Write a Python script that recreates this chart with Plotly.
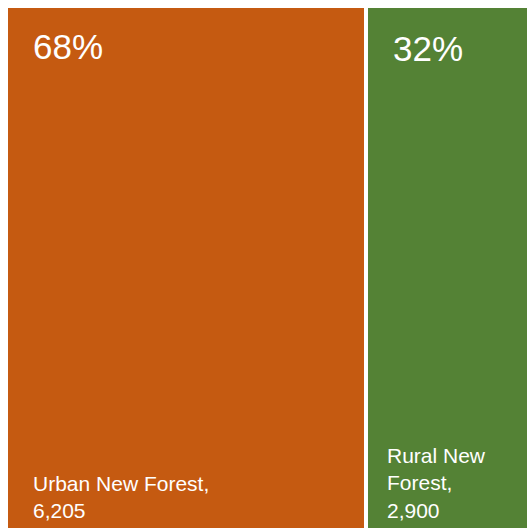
import plotly.graph_objects as go

# Tree segments: New Forest by area type
categories = ["Urban New Forest", "Rural New Forest"]
counts = [6205, 2900]
colors = ["#C55A11", "#548235"]
# Display labels (wrapped to fit each tile)
label_lines = [["Urban New Forest,", "6,205"], ["Rural New", "Forest,", "2,900"]]

total = sum(counts)
starts = [sum(counts[:i]) for i in range(len(counts))]
centers = [s + c / 2 for s, c in zip(starts, counts)]
shares = [f"{round(100 * c / total)}%" for c in counts]

fig = go.Figure()
fig.add_trace(go.Bar(
    x=centers,
    y=[1] * len(counts),
    width=counts,
    marker=dict(color=colors, line=dict(color="white", width=4)),
    hoverinfo="skip",
    showlegend=False,
))

font = "Liberation Sans, Arial, sans-serif"
label_shift = [25, 19]
pct_yshift = [-19, -21]
for s, pct, lines, dx, dy in zip(starts, shares, label_lines, label_shift, pct_yshift):
    fig.add_annotation(
        x=s, y=1, xref="x", yref="y", xanchor="left", yanchor="top",
        xshift=25, yshift=dy, text=pct, showarrow=False, align="left",
        font=dict(family=font, size=35, color="white"),
    )
    fig.add_annotation(
        x=s, y=0, xref="x", yref="y", xanchor="left", yanchor="bottom",
        xshift=dx, yshift=6, text="<br>".join(lines), showarrow=False,
        align="left", font=dict(family=font, size=21, color="white"),
    )

fig.update_layout(
    width=527, height=530,
    margin=dict(l=6, r=0, t=6, b=0),
    paper_bgcolor="white", plot_bgcolor="white",
    xaxis=dict(range=[0, 8980], visible=False, fixedrange=True),
    yaxis=dict(range=[0, 1], visible=False, fixedrange=True),
    bargap=0,
)

fig.write_html("out.html", config={"displayModeBar": False})
